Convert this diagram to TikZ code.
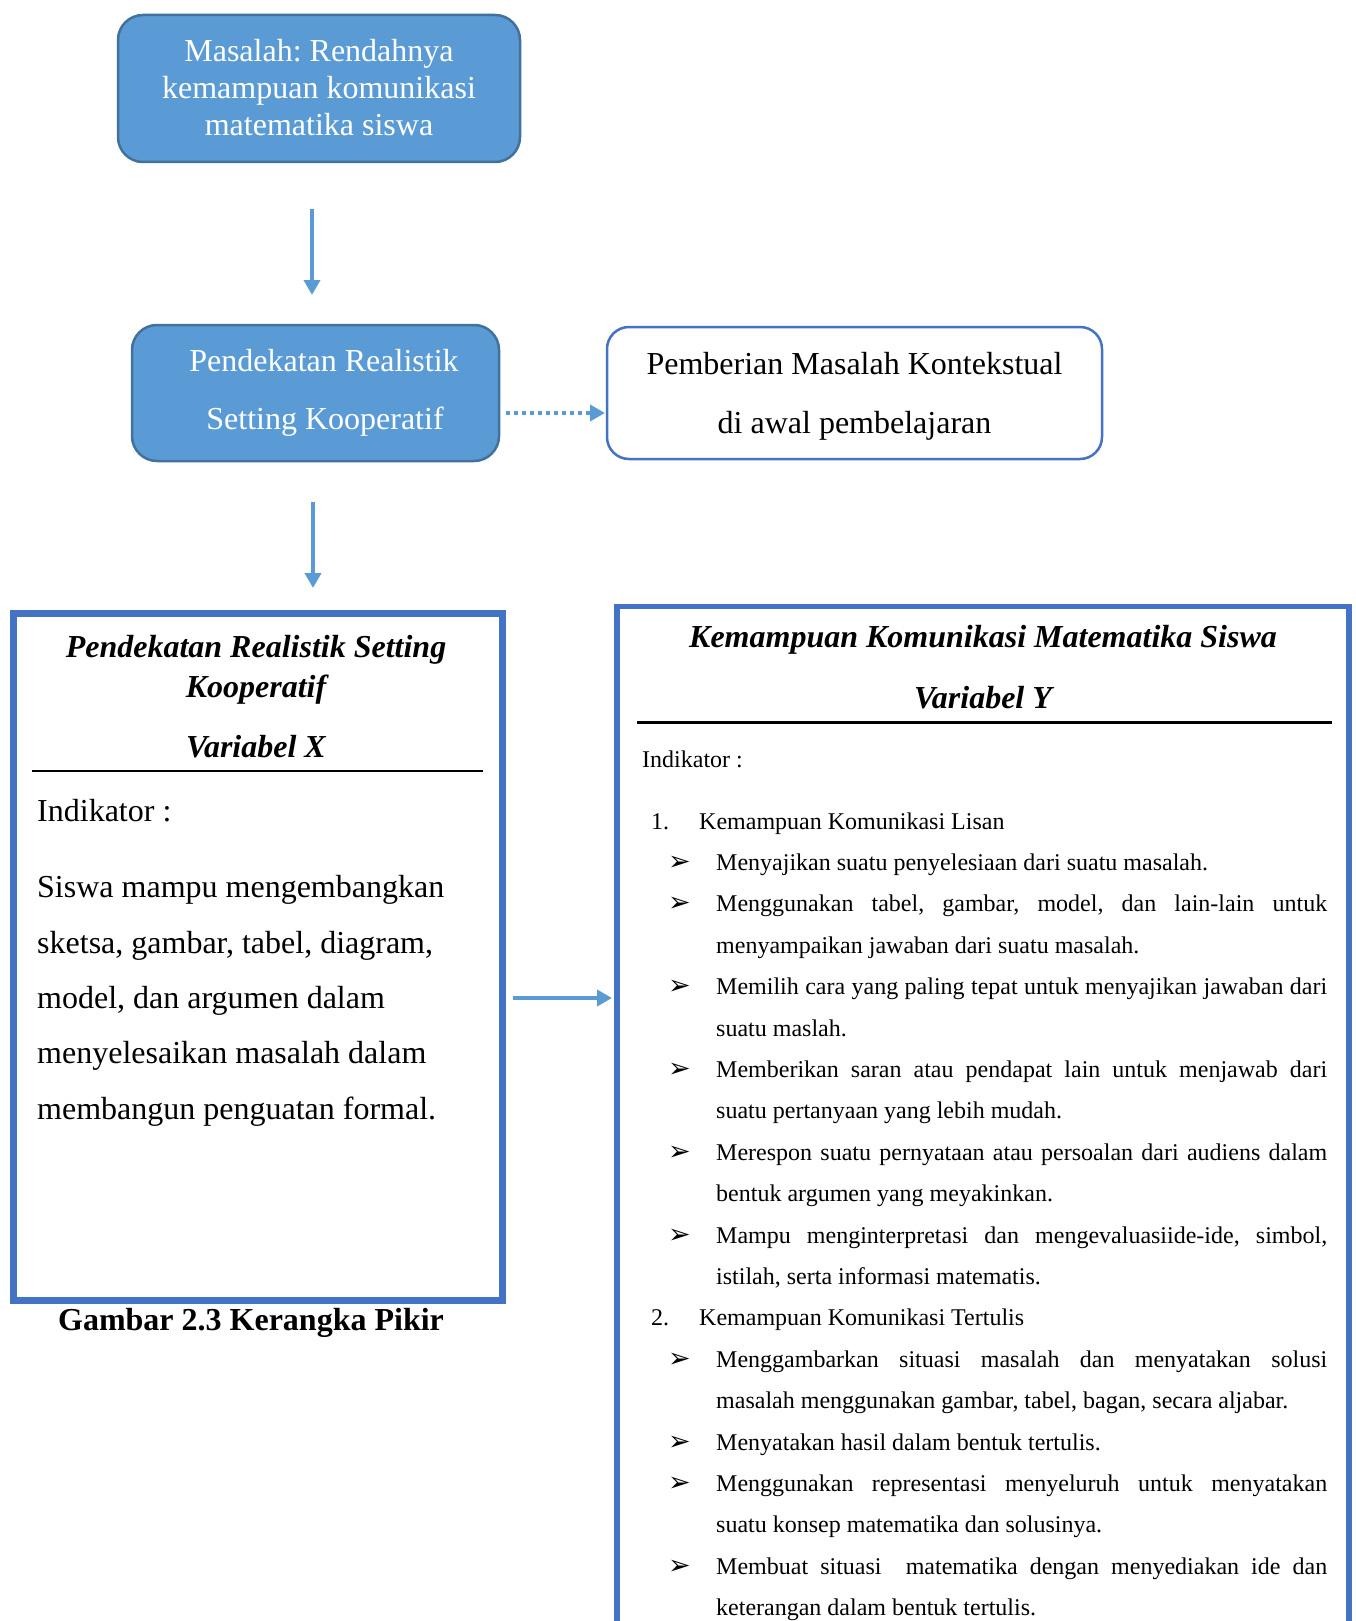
\documentclass[tikz,border=0pt]{standalone}
\usepackage{fontspec}
\setmainfont{Liberation Serif}
\newfontfamily\dejavu{DejaVu Sans}
\usetikzlibrary{arrows.meta}
\definecolor{accent}{HTML}{5B9BD5}
\definecolor{accentdark}{HTML}{41719C}
\definecolor{framecol}{HTML}{4472C4}
\newcommand{\jline}[1]{\makebox[611pt][s]{#1}}
\frenchspacing
\begin{document}
\begin{tikzpicture}[x=1pt,y=-1pt,
  bluebox/.style={draw=accentdark, fill=accent, line width=2.5pt, rounded corners=25pt, inner sep=0pt, outer sep=0pt},
  whitebox/.style={draw=framecol, fill=white, line width=2.5pt, rounded corners=22pt, inner sep=0pt, outer sep=0pt},
  bigframe/.style={draw=framecol, inner sep=0pt, outer sep=0pt},
  big/.style={font=\fontsize{32}{38}\selectfont, inner sep=0pt, anchor=base},
  small/.style={font=\fontsize{24}{28}\selectfont, inner sep=0pt, anchor=base west},
  wtext/.style={big, text=white},
  titletext/.style={big, font=\fontsize{32}{38}\selectfont\bfseries\itshape},
  bul/.style={font=\dejavu\fontsize{27}{30}\selectfont, inner sep=0pt, anchor=base west},
  arr/.style={draw=accent, line width=4pt, -{Triangle[length=15pt,width=16pt]}},
  dotarr/.style={arr, dash pattern=on 4pt off 4pt}]
\clip (0,0) rectangle (1355,1621);
\fill[white] (0,0) rectangle (1355,1621);

% top box
\node[bluebox, minimum width=402pt, minimum height=147pt] (masalah) at (319,88.5) {};
\node[wtext] (m1) at (319,62) {Masalah: Rendahnya};
\node[wtext] (m2) at (319,99) {kemampuan komunikasi};
\node[wtext] (m3) at (319,136) {matematika siswa};

% second box
\node[bluebox, minimum width=367pt, minimum height=136pt] (pra) at (315.5,393) {};
\node[wtext] (p1) at (324,371) {Pendekatan Realistik};
\node[wtext] (p2) at (325,429) {Setting Kooperatif};

% context box
\node[whitebox, minimum width=495pt, minimum height=132pt] (ctx) at (854.5,393) {};
\node[big] (c1) at (854.5,374) {Pemberian Masalah Kontekstual};
\node[big] (c2) at (854.5,433) {di awal pembelajaran};

% left big box
\node[bigframe, line width=7pt, minimum width=489.5pt, minimum height=687.5pt] (lbox) at (257.75,956.75) {};
\node[titletext] (lt1) at (256,657) {Pendekatan Realistik Setting};
\node[titletext] (lt2) at (256,697) {Kooperatif};
\node[titletext] (lt3) at (256,757) {Variabel X};
\draw[line width=2.5pt] (32,771) -- (483,771);
\node[big, anchor=base west] (li) at (37,821) {Indikator :};
\node[big, anchor=base west] (lb1) at (37,897) {Siswa mampu mengembangkan};
\node[big, anchor=base west] (lb2) at (37,953) {sketsa, gambar, tabel, diagram,};
\node[big, anchor=base west] (lb3) at (37,1008) {model, dan argumen dalam};
\node[big, anchor=base west] (lb4) at (37,1063) {menyelesaikan masalah dalam};
\node[big, anchor=base west] (lb5) at (37,1119) {membangun penguatan formal.};
\node[big, font=\fontsize{32}{38}\selectfont\bfseries] (cap) at (251,1330) {Gambar 2.3 Kerangka Pikir};

% right big box
\node[bigframe, line width=5.5pt, minimum width=732pt, minimum height=1093.5pt] (rbox) at (983,1153.25) {};
\node[titletext] (rt1) at (983,647) {Kemampuan Komunikasi Matematika Siswa};
\node[titletext] (rt2) at (983,708) {Variabel Y};
\draw[line width=3pt] (637,722) -- (1332,722);
\node[small] (ri) at (642,767) {Indikator :};

\node[small] (n1) at (651,829) {1.};
\node[small] (h1) at (699,829) {Kemampuan Komunikasi Lisan};
\node[bul] (b1) at (668,870.4) {➢};
\node[small] (t1) at (716,870.4) {Menyajikan suatu penyelesiaan dari suatu masalah.};
\node[bul] (b2) at (668,911.8) {➢};
\node[small] (t2) at (716,911.8) {\jline{Menggunakan tabel, gambar, model, dan lain-lain untuk}};
\node[small] (t3) at (716,953.2) {menyampaikan jawaban dari suatu masalah.};
\node[bul] (b3) at (668,994.6) {➢};
\node[small] (t4) at (716,994.6) {\jline{Memilih cara yang paling tepat untuk menyajikan jawaban dari}};
\node[small] (t5) at (716,1036) {suatu maslah.};
\node[bul] (b4) at (668,1077.4) {➢};
\node[small] (t6) at (716,1077.4) {\jline{Memberikan saran atau pendapat lain untuk menjawab dari}};
\node[small] (t7) at (716,1118.8) {suatu pertanyaan yang lebih mudah.};
\node[bul] (b5) at (668,1160.2) {➢};
\node[small] (t8) at (716,1160.2) {\jline{Merespon suatu pernyataan atau persoalan dari audiens dalam}};
\node[small] (t9) at (716,1201.6) {bentuk argumen yang meyakinkan.};
\node[bul] (b6) at (668,1243) {➢};
\node[small] (t10) at (716,1243) {\jline{Mampu menginterpretasi dan mengevaluasiide-ide, simbol,}};
\node[small] (t11) at (716,1284.4) {istilah, serta informasi matematis.};

\node[small] (n2) at (651,1325.8) {2.};
\node[small] (h2) at (699,1325.8) {Kemampuan Komunikasi Tertulis};
\node[bul] (b7) at (668,1367.2) {➢};
\node[small] (t12) at (716,1367.2) {\jline{Menggambarkan situasi masalah dan menyatakan solusi}};
\node[small] (t13) at (716,1408.6) {masalah menggunakan gambar, tabel, bagan, secara aljabar.};
\node[bul] (b8) at (668,1450) {➢};
\node[small] (t14) at (716,1450) {Menyatakan hasil dalam bentuk tertulis.};
\node[bul] (b9) at (668,1491.4) {➢};
\node[small] (t15) at (716,1491.4) {\jline{Menggunakan representasi menyeluruh untuk menyatakan}};
\node[small] (t16) at (716,1532.8) {suatu konsep matematika dan solusinya.};
\node[bul] (b10) at (668,1574.2) {➢};
\node[small] (t17) at (716,1574.2) {\jline{Membuat situasi\ \ matematika dengan menyediakan ide dan}};
\node[small] (t18) at (716,1615.6) {keterangan dalam bentuk tertulis.};

% connectors
\draw[arr] ([xshift=-7pt,yshift=-47pt]masalah.south) -- ([xshift=-3.5pt,yshift=30pt]pra.north);
\draw[arr] ([xshift=-2.5pt,yshift=-41pt]pra.south) -- ([xshift=55.25pt,yshift=25pt]lbox.north);
\draw[dotarr] ([xshift=7pt,yshift=-20pt]pra.east) -- ([xshift=-2pt,yshift=-20pt]ctx.west);
\draw[arr] ([xshift=10pt,yshift=-41.25pt]lbox.east) -- ([xshift=-5pt,yshift=155.25pt]rbox.west);
\end{tikzpicture}
\end{document}
